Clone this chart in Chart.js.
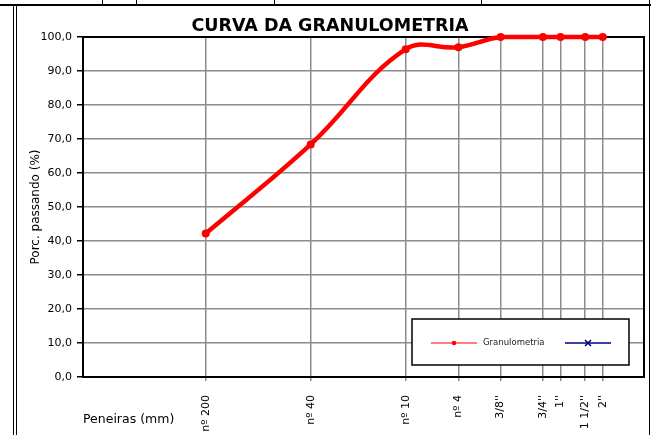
<!DOCTYPE html>
<html>
<head>
<meta charset="utf-8">
<script src="https://cdn.jsdelivr.net/npm/chart.js@4"></script>
<style>
  body { margin: 0; background: #fff; }
  #wrap { position: relative; width: 651px; height: 435px; overflow: hidden; background: #fff; }
  .ln { position: absolute; background: #000; }
  canvas { position: absolute; left: 0; top: 0; }
</style>
</head>
<body>
<div id="wrap">
  <!-- sheet frame around the chart -->
  <div class="ln" style="left:0;top:4px;width:651px;height:2px"></div>
  <div class="ln" style="left:102px;top:0;width:1px;height:5px"></div>
  <div class="ln" style="left:136px;top:0;width:1px;height:5px"></div>
  <div class="ln" style="left:274px;top:0;width:1px;height:5px"></div>
  <div class="ln" style="left:481px;top:0;width:1px;height:5px"></div>
  <div class="ln" style="left:13px;top:5px;width:1px;height:430px"></div>
  <div class="ln" style="left:16px;top:6px;width:1px;height:429px"></div>
  <div class="ln" style="left:649px;top:0;width:1px;height:435px"></div>
  <canvas id="chart" width="651" height="435"></canvas>
</div>
<script>
// sieves (mm) and their names
const sieveLabels = ['nº 200', 'nº 40', 'nº 10', 'nº 4', "3/8''", "3/4''", "1''", "1 1/2''", "2''"];
const sieveSizes = [0.075, 0.42, 2.0, 4.75, 9.5, 19.0, 25.4, 38.1, 50.8];
// % passing
const percentPassing = [42.2, 68.4, 96.4, 97.0, 100, 100, 100, 100, 100];

const xMin = 0.01;
const xMax = 100;
const yMin = 0;
const yMax = 100;
const yStep = 10;

Chart.defaults.font.family = "'DejaVu Sans', Verdana, sans-serif";
Chart.defaults.color = '#000';

const gridGray = '#8c8c8c';

// black box around the plot area (drawn under the curve)
const plotFrame = {
  id: 'plotFrame',
  beforeDatasetsDraw(chart) {
    const { ctx, chartArea: a } = chart;
    ctx.save();
    ctx.strokeStyle = '#000';
    ctx.lineWidth = 2;
    ctx.strokeRect(a.left, a.top, a.right - a.left, a.bottom - a.top);
    ctx.restore();
  }
};

// excel style legend: line + marker, boxed, inside the plot
const legendBox = {
  id: 'legendBox',
  afterDraw(chart) {
    const { ctx, chartArea: a } = chart;
    const x = a.right - 232, y = a.bottom - 58, w = 217, h = 46;
    ctx.save();
    ctx.fillStyle = '#fff';
    ctx.fillRect(x, y, w, h);
    ctx.strokeStyle = '#000';
    ctx.lineWidth = 1.5;
    ctx.strokeRect(x, y, w, h);
    const midY = y + 24;
    chart.data.datasets.forEach((ds, i) => {
      const x0 = x + 19 + i * 134;
      ctx.strokeStyle = ds.borderColor;
      ctx.fillStyle = ds.borderColor;
      ctx.lineWidth = i === 0 ? 1.2 : 1.5;
      ctx.beginPath();
      ctx.moveTo(x0, midY);
      ctx.lineTo(x0 + 46, midY);
      ctx.stroke();
      const mx = x0 + 23;
      if (ds.pointStyle === 'crossRot') {
        ctx.lineWidth = 1.6;
        ctx.beginPath();
        ctx.moveTo(mx - 3, midY - 3); ctx.lineTo(mx + 3, midY + 3);
        ctx.moveTo(mx - 3, midY + 3); ctx.lineTo(mx + 3, midY - 3);
        ctx.stroke();
      } else {
        ctx.beginPath();
        ctx.arc(mx, midY, 2.3, 0, Math.PI * 2);
        ctx.fill();
      }
      if (ds.label) {
        ctx.fillStyle = '#222';
        ctx.font = "8.5px 'DejaVu Sans'";
        ctx.textBaseline = 'middle';
        ctx.fillText(ds.label, x0 + 52, midY);
      }
    });
    ctx.restore();
  }
};

new Chart(document.getElementById('chart'), {
  type: 'line',
  data: {
    datasets: [{
      label: 'Granulometria',
      data: sieveSizes.map((s, i) => ({ x: s, y: percentPassing[i] })),
      borderColor: '#ff0000',
      backgroundColor: '#ff0000',
      borderWidth: 4.5,
      pointRadius: 4,
      pointHoverRadius: 4,
      pointBorderWidth: 0,
      tension: 0.4,
      clip: false
    }, {
      label: '',
      data: [],
      borderColor: '#000080',
      backgroundColor: '#000080',
      pointStyle: 'crossRot'
    }]
  },
  options: {
    responsive: false,
    devicePixelRatio: 1,
    animation: false,
    layout: { padding: { left: 16, top: 10, right: 7, bottom: 0 } },
    plugins: {
      legend: { display: false },
      tooltip: { enabled: false },
      title: {
        display: true,
        text: 'CURVA DA GRANULOMETRIA',
        color: '#000',
        font: { size: 17.5, weight: 'bold' },
        padding: { top: 6, bottom: 0 }
      }
    },
    scales: {
      x: {
        type: 'logarithmic',
        min: xMin,
        max: xMax,
        afterBuildTicks: (scale) => { scale.ticks = sieveSizes.map(v => ({ value: v })); },
        afterFit: (scale) => { scale.height = 58; },
        ticks: {
          autoSkip: false,
          minRotation: 90,
          maxRotation: 90,
          padding: 14,
          font: { size: 11 },
          callback: (v, i) => sieveLabels[i]
        },
        grid: { color: gridGray, lineWidth: 1.5, tickLength: 4, tickColor: gridGray },
        border: { color: '#000', width: 2 },
        title: {
          display: true,
          text: 'Peneiras (mm)',
          align: 'start',
          font: { size: 12.5 },
          padding: { top: 0, bottom: 7.5 }
        }
      },
      y: {
        min: yMin,
        max: yMax,
        afterFit: (scale) => { scale.width = 67; },
        ticks: {
          stepSize: yStep,
          padding: 5,
          font: { size: 11 },
          callback: (v) => v.toFixed(1).replace('.', ',')
        },
        grid: { color: gridGray, lineWidth: 1.5, tickLength: 6, tickColor: '#000' },
        border: { color: '#000', width: 2 },
        title: {
          display: true,
          text: 'Porc. passando (%)',
          font: { size: 12 },
          padding: { top: 13, bottom: 0 }
        }
      }
    }
  },
  plugins: [plotFrame, legendBox]
});
</script>
</body>
</html>
